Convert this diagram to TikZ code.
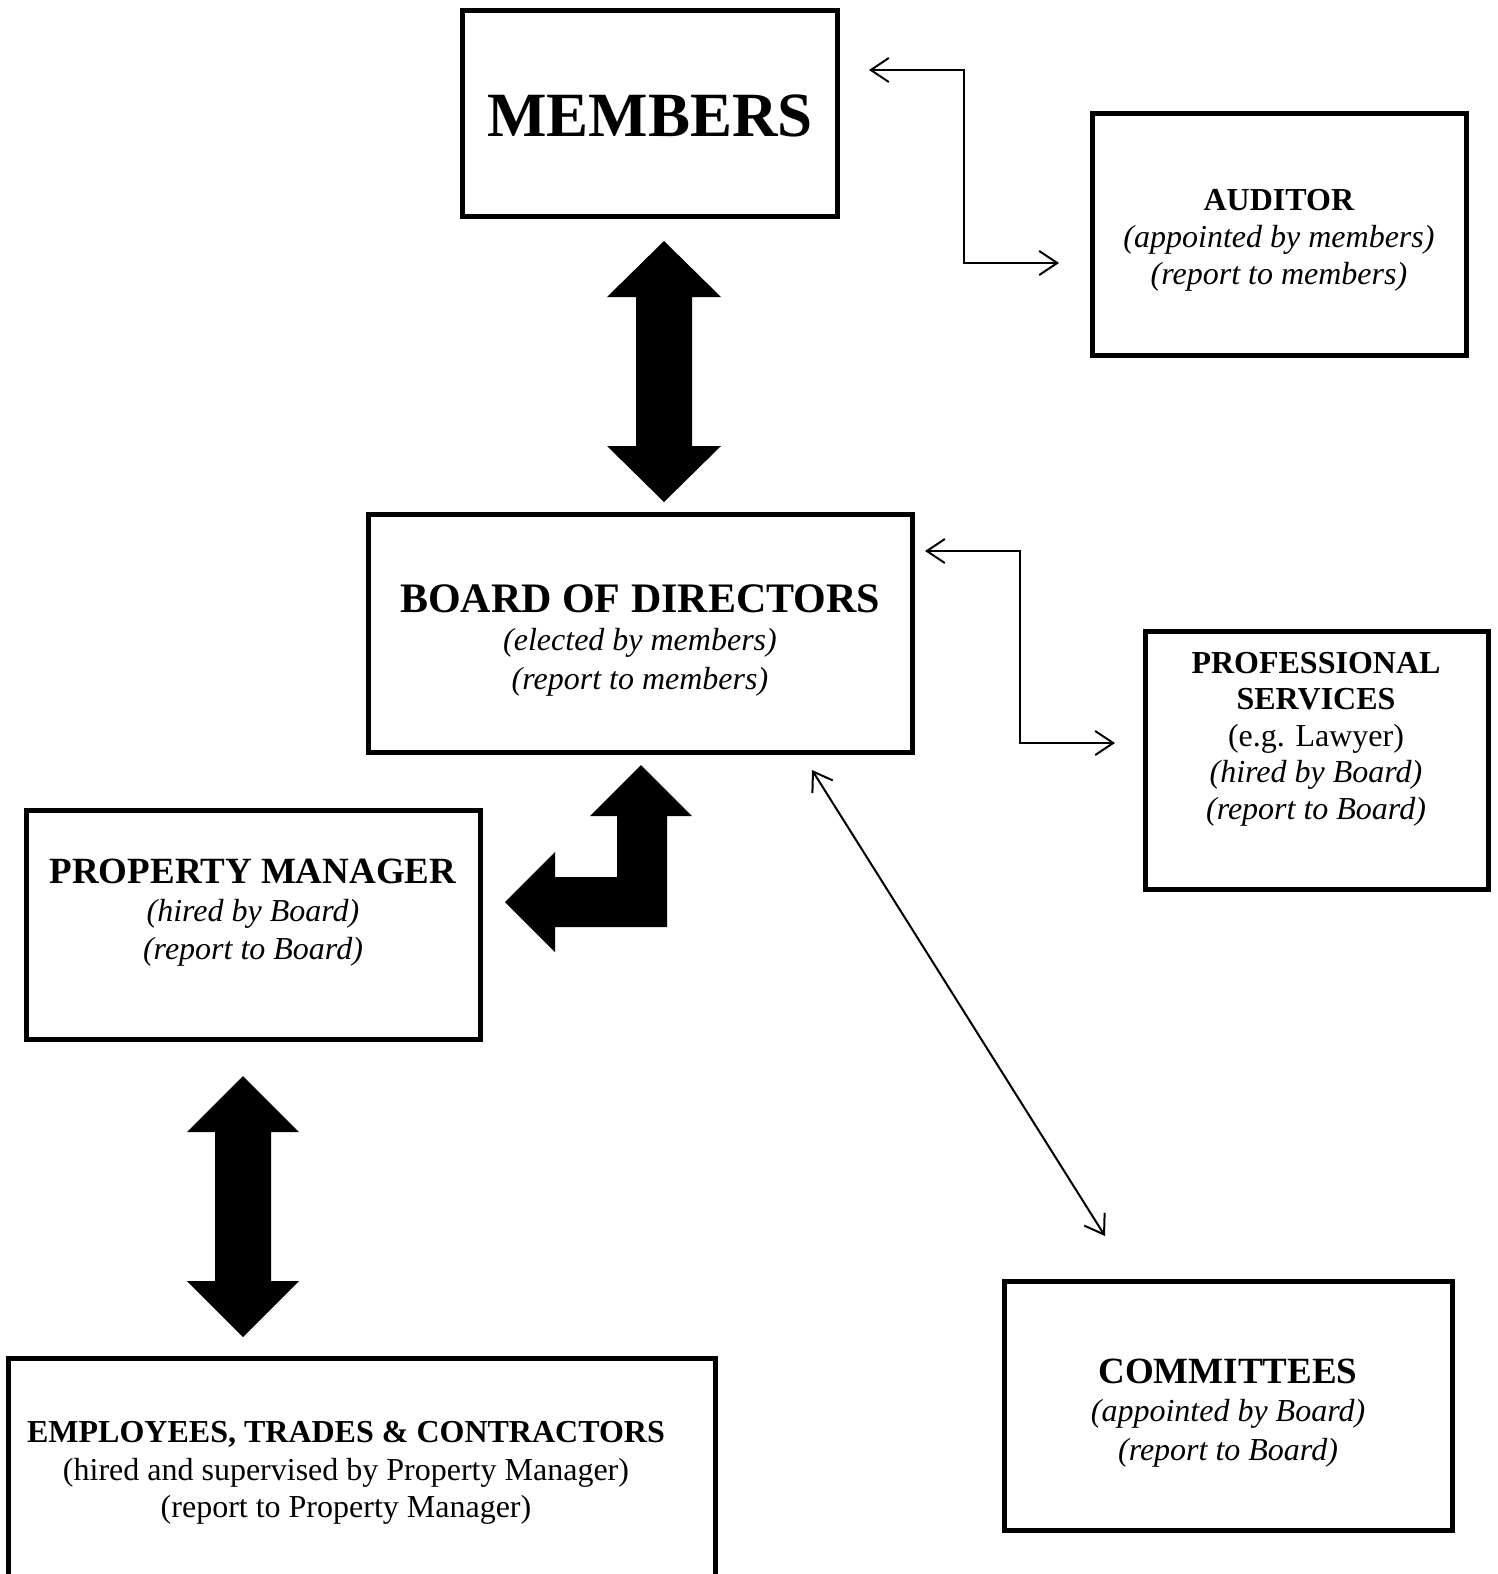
\documentclass[tikz,border=0pt]{standalone}
\usepackage{fontspec}
\setmainfont{Liberation Serif}
\usetikzlibrary{arrows.meta}
\begin{document}
\begin{tikzpicture}[x=1pt,y=-1pt,
  box/.style={draw, line width=5pt, rectangle, inner sep=0pt},
  txt/.style={align=center, inner sep=0pt, font=\fontsize{32}{37}\selectfont},
  thinarr/.style={line width=2pt, {Straight Barb[length=18pt,width=24pt]}-{Straight Barb[length=18pt,width=24pt]}},
  bigarr/.style={fill=black, draw=none}]
\useasboundingbox (0,0) rectangle (1497,1574);
\clip (0,0) rectangle (1497,1574);

% boxes
\node[box, minimum width=375pt, minimum height=206pt] (members) at (649.5,113.5) {};
\node[box, minimum width=374pt, minimum height=242pt] (auditor) at (1279,234.5) {};
\node[box, minimum width=544pt, minimum height=238pt] (board) at (640,633) {};
\node[box, minimum width=343pt, minimum height=258pt] (prof) at (1316.5,760.5) {};
\node[box, minimum width=454pt, minimum height=229pt] (pm) at (253,925) {};
\node[box, minimum width=707pt, minimum height=262pt] (emp) at (361.5,1489) {};
\node[box, minimum width=448pt, minimum height=249pt] (comm) at (1228,1406) {};

% texts
\node[txt, font=\fontsize{63}{70}\selectfont\bfseries] (members-t) at (650,116) {MEMBERS};
\node[txt] (auditor-t) at (1279,240.5) {\textbf{AUDITOR}\\\textit{(appointed by members)}\\\textit{(report to members)}};
\node[txt, font=\fontsize{32}{38.5}\selectfont] (board-t) at (640,640) {{\fontsize{42}{38.5}\selectfont\bfseries BOARD OF DIRECTORS}\\\textit{(elected by members)}\\\textit{(report to members)}};
\node[txt, font=\fontsize{32}{36.5}\selectfont] (prof-t) at (1316,739) {\textbf{PROFESSIONAL}\\\textbf{SERVICES}\\(e.g. Lawyer)\\\textit{(hired by Board)}\\\textit{(report to Board)}};
\node[txt, font=\fontsize{32}{38}\selectfont] (pm-t) at (253,912.5) {{\fontsize{37}{38}\selectfont\bfseries PROPERTY MANAGER}\\\textit{(hired by Board)}\\\textit{(report to Board)}};
\node[txt, font=\fontsize{32}{37.5}\selectfont] (emp-t) at (346,1473) {\textbf{EMPLOYEES, TRADES \& CONTRACTORS}\\(hired and supervised by Property Manager)\\(report to Property Manager)};
\node[txt, font=\fontsize{32}{38.5}\selectfont] (comm-t) at (1228,1413) {{\fontsize{37}{38.5}\selectfont\bfseries COMMITTEES}\\\textit{(appointed by Board)}\\\textit{(report to Board)}};

% big arrows
\fill[bigarr] (664,241) -- (721,297) -- (692,297) -- (692,446) -- (721,446) -- (664,502)
  -- (607,446) -- (636,446) -- (636,297) -- (607,297) -- cycle;
\fill[bigarr] (243,1076) -- (299,1132) -- (271,1132) -- (271,1281) -- (299,1281) -- (243,1337)
  -- (187,1281) -- (215,1281) -- (215,1132) -- (187,1132) -- cycle;
\fill[bigarr] (641,765) -- (692,816) -- (667,816) -- (667,927) -- (555,927) -- (555,952)
  -- (505,902) -- (555,852) -- (555,877) -- (617,877) -- (617,816) -- (590,816) -- cycle;

% thin connectors
\coordinate (ma1) at (869,70);
\coordinate (ma2) at (1059,263);
\draw[thinarr] (ma1) -- (964,70) -- (964,263) -- (ma2);
\coordinate (bp1) at (925,551);
\coordinate (bp2) at (1115,743);
\draw[thinarr] (bp1) -- (1020,551) -- (1020,743) -- (bp2);
\coordinate (bc1) at (812,770);
\coordinate (bc2) at (1105,1236);
\draw[thinarr] (bc1) -- (bc2);
\end{tikzpicture}
\end{document}
